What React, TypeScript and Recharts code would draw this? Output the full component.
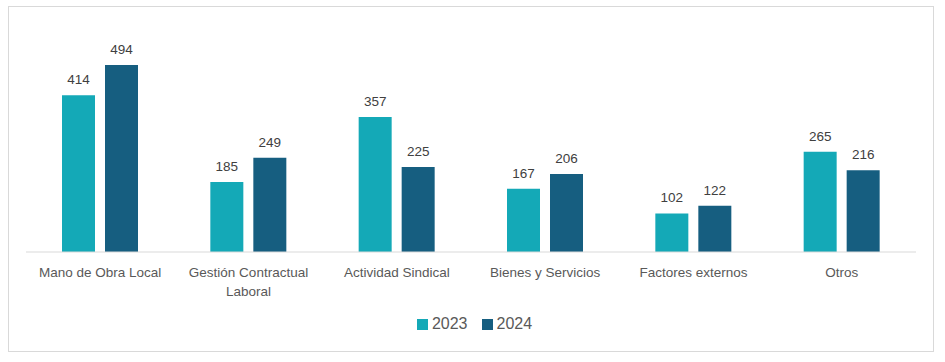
import { BarChart, Bar, XAxis, YAxis, LabelList } from 'recharts'

const categories = [
  'Mano de Obra Local',
  'Gestión Contractual Laboral',
  'Actividad Sindical',
  'Bienes y Servicios',
  'Factores externos',
  'Otros',
]
const values2023 = [414, 185, 357, 167, 102, 265]
const values2024 = [494, 249, 225, 206, 122, 216]
const seriesNames = ['2023', '2024']
// manual line breaks for the wrapped category label
const tickLines: Record<string, string[]> = {
  'Gestión Contractual Laboral': ['Gestión Contractual', 'Laboral'],
}

const data = categories.map((name, i) => ({
  name,
  y2023: values2023[i],
  y2024: values2024[i],
}))

const FONT = '"Liberation Sans", Arial, sans-serif'
const TEAL = '#14A9B7'
const NAVY = '#165E80'
const colors = [TEAL, NAVY]

function CategoryTick(props: any) {
  const { x, y, payload } = props
  const lines = tickLines[payload.value] ?? [payload.value]
  return (
    <g transform={`translate(${x},${y})`}>
      {lines.map((line: string, i: number) => (
        <text
          key={i}
          x={0}
          y={17 + i * 19}
          textAnchor="middle"
          fill="#595959"
          fontSize={13.5}
          fontFamily={FONT}
        >
          {line}
        </text>
      ))}
    </g>
  )
}

export default function App() {
  return (
    <div style={{ position: 'absolute', left: 0, top: 0, width: 945, height: 362, background: '#fff' }}>
      <div
        style={{
          position: 'absolute',
          left: 8,
          top: 6,
          width: 924,
          height: 344,
          border: '1px solid #d9d9d9',
        }}
      />
      <div style={{ position: 'absolute', left: 0, top: 0 }}>
        <BarChart
          width={945}
          height={362}
          data={data}
          margin={{ top: 25, right: 29, bottom: 0, left: 26 }}
          barCategoryGap={36}
          barGap={10}
        >
          <XAxis
            dataKey="name"
            axisLine={{ stroke: '#d9d9d9' }}
            tickLine={false}
            tick={<CategoryTick />}
            interval={0}
            height={110}
          />
          <YAxis hide domain={[0, 600]} />
          <Bar dataKey="y2023" name="2023" fill={TEAL} isAnimationActive={false}>
            <LabelList dataKey="y2023" position="top" offset={11} fill="#404040" fontSize={13.5} fontFamily={FONT} />
          </Bar>
          <Bar dataKey="y2024" name="2024" fill={NAVY} isAnimationActive={false}>
            <LabelList dataKey="y2024" position="top" offset={11} fill="#404040" fontSize={13.5} fontFamily={FONT} />
          </Bar>
        </BarChart>
      </div>
      <div
        style={{
          position: 'absolute',
          left: 0,
          top: 315,
          width: 945,
          display: 'flex',
          justifyContent: 'center',
          alignItems: 'center',
          gap: 14,
          fontFamily: FONT,
          fontSize: 16,
          color: '#595959',
          paddingLeft: 2,
        }}
      >
        {seriesNames.map((s, i) => (
          <div key={s} style={{ display: 'flex', alignItems: 'center', gap: 4 }}>
            <span style={{ width: 11, height: 11, background: colors[i], display: 'inline-block' }} />
            <span>{s}</span>
          </div>
        ))}
      </div>
    </div>
  )
}
